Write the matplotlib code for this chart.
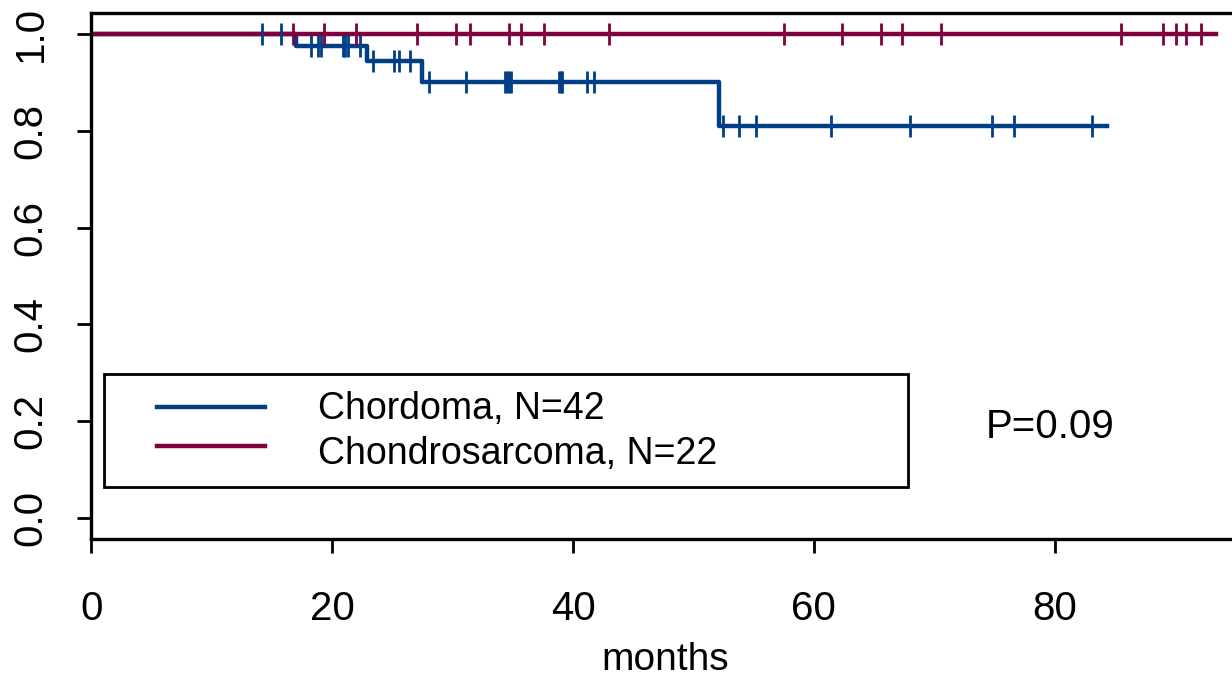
import numpy as np
import matplotlib
matplotlib.use("Agg")
import matplotlib.pyplot as plt
from matplotlib.patches import Rectangle

plt.rcParams["font.family"] = ["Liberation Sans", "DejaVu Sans"]

# ---- data ----
# Chordoma: Kaplan-Meier steps (event times / survival after each event)
chord_event_t = [16.96, 22.86, 27.43, 52.14]
chord_surv = [0.976, 0.944, 0.901, 0.810]
chord_end = 84.32
chord_cens = [14.13, 15.71,
              18.23, 18.78, 19.03, 20.86, 21.05, 21.27, 22.30,
              23.36, 25.12, 25.54, 26.45,
              28.03, 31.08, 34.34, 34.49, 34.68, 34.84, 38.85, 38.97, 39.10,
              41.15, 41.71,
              52.48, 53.78, 55.17, 61.39, 67.98, 74.77, 76.65, 83.12]

# Chondrosarcoma: no events, censored only
chondro_end = 93.37
chondro_cens = [16.76, 19.31, 21.97, 27.01, 30.25, 31.44, 34.68, 35.67, 37.58,
                42.98, 57.54, 62.36, 65.57, 67.29, 70.56, 85.51, 89.02, 90.05,
                90.88, 92.13]

labels = ["Chordoma, N=42", "Chondrosarcoma, N=22"]
p_text = "P=0.09"
xticks = [0, 20, 40, 60, 80]
yticks = [0.0, 0.2, 0.4, 0.6, 0.8, 1.0]

BLUE = "#003F87"
RED = "#800040"
FS = 29
FS_LEG = 27
LW = 3.2

W, H = 1232, 679
fig = plt.figure(figsize=(W / 100, H / 100), dpi=100)
L, B, T = 91.5, 539, 13
ax = fig.add_axes([L / W, 1 - B / H, 1 - L / W, (B - T) / H])


def km_level(t, ev_t, surv):
    steps = np.concatenate([[1.0], surv])
    return steps[np.searchsorted(ev_t, t, side="right")]


# chordoma curve
cx = np.concatenate([[0], chord_event_t, [chord_end]])
cy = np.concatenate([[1.0], chord_surv, [chord_surv[-1]]])
ax.step(cx, cy, where="post", color=BLUE, lw=LW)
# chondrosarcoma curve
ax.plot([0, chondro_end], [1.0, 1.0], color=RED, lw=LW)

cl = [km_level(t, chord_event_t, chord_surv) for t in chord_cens]
ax.plot(chord_cens, cl, ls="none", marker="|", ms=16, mew=2.0, color=BLUE)
ax.plot(chondro_cens, np.ones(len(chondro_cens)), ls="none", marker="|",
        ms=16, mew=2.0, color=RED)

ax.set_xlim(0, (W - L) / 12.04)
ax.set_ylim(-0.0434, 1.0434)
ax.set_xticks(xticks)
ax.set_xticklabels([str(v) for v in xticks])
ax.set_yticks(yticks)
ax.set_yticklabels([f"{v:.1f}" for v in yticks], rotation=90, va="center")
ax.spines["right"].set_visible(False)
for s in ("left", "bottom", "top"):
    ax.spines[s].set_linewidth(2.4)
ax.tick_params(axis="both", length=10, width=2.0, labelsize=FS)
ax.tick_params(axis="x", pad=27)
ax.tick_params(axis="y", pad=20)

# legend box (drawn by hand, like R's legend())
ax.add_patch(Rectangle((0.011, 0.099), 0.705, 0.215, transform=ax.transAxes,
                       fill=False, lw=2.0, ec="black"))
for col, lab, yl, yt in [(BLUE, labels[0], 0.251, 0.247),
                         (RED, labels[1], 0.176, 0.162)]:
    ax.plot([0.0574, 0.152], [yl, yl], color=col, lw=LW,
            transform=ax.transAxes)
    ax.text(0.1986, yt, lab, fontsize=FS_LEG, ha="left", va="center",
            transform=ax.transAxes)

ax.text(0.7843, 0.213, p_text, fontsize=FS, ha="left", va="center",
        transform=ax.transAxes)
fig.text(665 / W, 1 - 678 / H, "months", fontsize=28, ha="center",
         va="bottom")

fig.savefig("out.png", dpi=100)
